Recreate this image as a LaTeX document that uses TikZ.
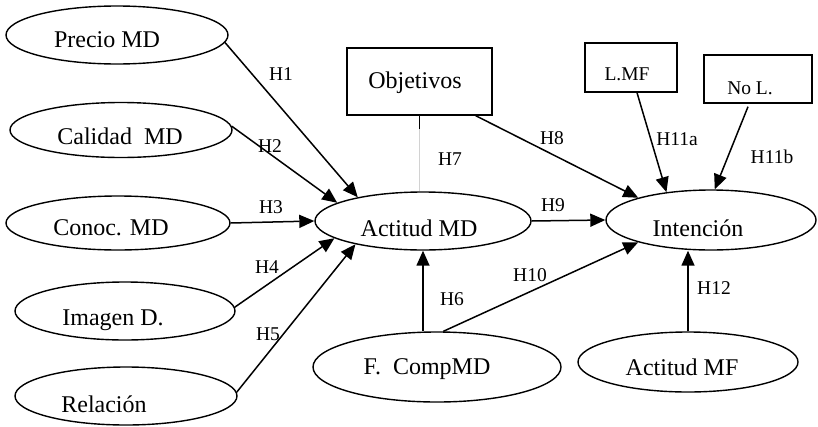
\documentclass[tikz,border=0pt]{standalone}
\usepackage{fontspec}
\setmainfont{Liberation Serif}
\usetikzlibrary{shapes.geometric,arrows.meta,calc}
\begin{document}
\begin{tikzpicture}[x=1pt,y=-1pt,
  ell/.style={draw, ellipse, line width=1.4pt, inner sep=0pt},
  boxn/.style={draw, rectangle, line width=1.4pt, inner sep=0pt},
  txt/.style={inner sep=0pt, font=\fontsize{24}{26}\selectfont},
  stxt/.style={inner sep=0pt, font=\fontsize{19.5}{22}\selectfont},
  hlab/.style={inner sep=0pt, font=\fontsize{19.5}{22}\selectfont},
  arr/.style={line width=1.5pt, -{Triangle[length=15pt,width=13pt]}},
  ]
\useasboundingbox (0,0) rectangle (818,426);
% ellipses
\node[ell, minimum width=222pt, minimum height=58pt] (prec) at (117,35) {};
\node[ell, minimum width=222pt, minimum height=55pt] (cali) at (121,130) {};
\node[ell, minimum width=224pt, minimum height=54pt] (cono) at (118,223) {};
\node[ell, minimum width=220pt, minimum height=58pt] (imag) at (125,311) {};
\node[ell, minimum width=222pt, minimum height=58pt] (rela) at (126,396) {};
\node[ell, minimum width=216pt, minimum height=58pt] (act) at (423,221) {};
\node[ell, minimum width=248pt, minimum height=70pt] (fcomp) at (437,367) {};
\node[ell, minimum width=210pt, minimum height=60pt] (int) at (711,220) {};
\node[ell, minimum width=220pt, minimum height=60pt] (amf) at (688,362) {};
% boxes
\node[boxn, minimum width=145pt, minimum height=67pt] (obj) at (419.5,81.5) {};
\node[boxn, minimum width=92pt, minimum height=49pt] (lmf) at (631,67.5) {};
\node[boxn, minimum width=108pt, minimum height=48pt] (nol) at (758,79) {};
% texts
\node[txt] (precT) at (107,40) {Precio MD};
\node[txt] (caliT) at (120,136) {Calidad\ \ MD};
\node[txt] (conoT) at (111,228) {Conoc. MD};
\node[txt] (imagT) at (113,320) {Imagen D.};
\node[txt] (relaT) at (104,404) {Relación};
\node[txt] (actT) at (419,228) {Actitud MD};
\node[txt] (fcompT) at (427,369) {F.\ \ CompMD};
\node[txt] (intT) at (698,228) {Intención};
\node[txt] (amfT) at (682,367) {Actitud MF};
\node[txt] (objT) at (415,83) {Objetivos};
\node[stxt] (lmfT) at (627,74) {L.MF};
\node[stxt] (nolT) at (750,88) {No L.};
% connectors
\draw[arr] (prec.-4) -- (act.160);
\draw[arr] (cali.2) -- (act.168);
\draw[arr] (cono.east) -- (act.west);
\draw[arr] (imag.2) -- (act.191);
\draw[arr] (rela.2) -- (act.199);
\draw[arr] (fcomp.north -| act.south) -- (act.south);
\draw[gray!35, line width=0.6pt] (obj.south) -- (obj.south |- act.north);
\draw[line width=1.4pt] (obj.south) -- ++(0,13);
\draw[arr] ([xshift=-17pt]obj.south east) -- (int.163);
\draw[arr] (act.east) -- (int.west);
\draw[arr] (fcomp.80) -- (int.197);
\draw[arr] ([xshift=6pt]lmf.south) -- (int.148);
\draw[arr] ([xshift=-10pt,yshift=-3pt]nol.south) -- (int.83);
\draw[arr] (amf.north) -- (amf.north |- int.south);
% hypothesis labels
\node[hlab] (h1) at (281,74) {H1};
\node[hlab] (h2) at (270,146) {H2};
\node[hlab] (h3) at (271,207) {H3};
\node[hlab] (h4) at (267,267) {H4};
\node[hlab] (h5) at (268,334) {H5};
\node[hlab] (h6) at (452,299) {H6};
\node[hlab] (h7) at (450,159) {H7};
\node[hlab] (h8) at (552,138) {H8};
\node[hlab] (h9) at (553,205) {H9};
\node[hlab] (h10) at (530,275) {H10};
\node[hlab] (h11a) at (677,139) {H11a};
\node[hlab] (h11b) at (772,157) {H11b};
\node[hlab] (h12) at (714,288) {H12};
\end{tikzpicture}
\end{document}
